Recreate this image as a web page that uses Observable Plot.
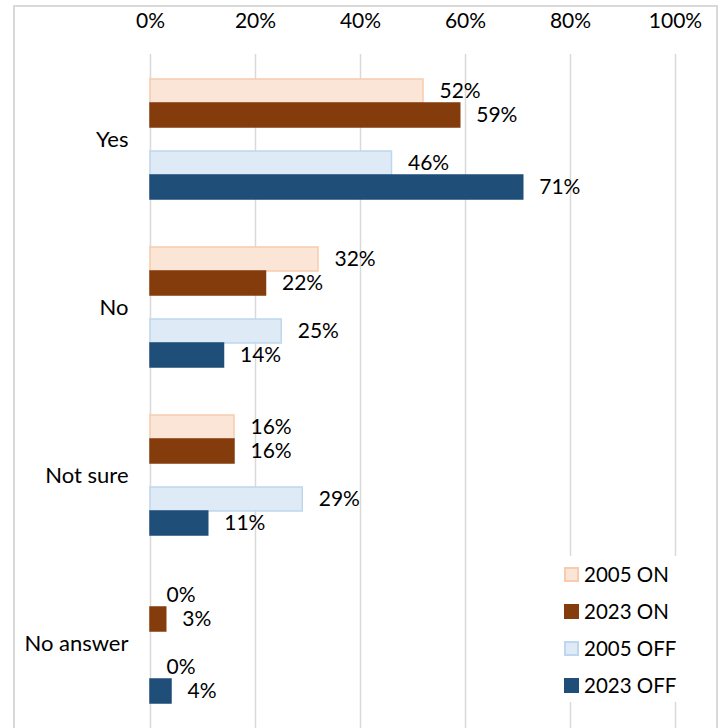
<!DOCTYPE html>
<html><head><meta charset="utf-8">
<script src="https://cdn.jsdelivr.net/npm/d3@7"></script>
<script src="https://cdn.jsdelivr.net/npm/@observablehq/plot@0.6"></script>
<style>
html,body{margin:0;padding:0;background:#fff;}
body{width:723px;height:728px;overflow:hidden;position:relative;font-family:Lato,"Open Sans",sans-serif;}
#chart{position:absolute;left:0;top:0;}
#frame{position:absolute;left:13px;top:5px;width:705px;height:760px;border:2px solid #d9d9d9;box-sizing:border-box;pointer-events:none;}
#legend{position:absolute;left:556px;top:556px;width:132px;height:146px;background:#fff;}
.item{position:absolute;left:8px;display:flex;align-items:center;font-size:20.5px;color:#000;height:30px;}
.sw{width:15px;height:15px;box-sizing:border-box;margin-right:5px;}
</style></head>
<body>
<div id="chart"></div>
<div id="frame"></div>
<div id="legend"></div>
<script>
const categories = ["Yes", "No", "Not sure", "No answer"];
const seriesNames = ["2005 ON", "2023 ON", "2005 OFF", "2023 OFF"];
const on2005  = [52, 32, 16, 0];
const on2023  = [59, 22, 16, 3];
const off2005 = [46, 25, 29, 0];
const off2023 = [71, 14, 11, 4];
const xTicks = [0, 20, 40, 60, 80, 100];

const fills   = ["#fbe5d6", "#843c0c", "#deebf7", "#1f4e79"];
const strokes = ["#f8cbad", "#843c0c", "#bdd7ee", "#1f4e79"];
const seriesValues = [on2005, on2023, off2005, off2023];

const data = categories.flatMap((c, i) =>
  seriesNames.map((s, j) => ({category: c, series: s, value: seriesValues[j][i], key: c + "|" + s})));

const yDomain = categories.flatMap(c => [c + "|pad1", c + "|2005 ON", c + "|2023 ON", c + "|mid", c + "|2005 OFF", c + "|2023 OFF", c + "|pad2"]);
const mids = categories.map(c => c + "|mid");

const FS = 21;
const chart = Plot.plot({
  width: 723, height: 728,
  marginLeft: 150, marginRight: 48, marginTop: 54, marginBottom: 0,
  style: {fontFamily: "Lato, 'Open Sans', sans-serif", fontSize: FS + "px", color: "#000", background: "transparent"},
  x: {domain: [0, 100], axis: null},
  y: {domain: yDomain, axis: null, padding: 0},
  marks: [
    Plot.gridX(xTicks, {stroke: "#d9d9d9", strokeWidth: 1.5, strokeOpacity: 1}),
    Plot.axisX(xTicks, {anchor: "top", label: null, tickSize: 0, tickPadding: 27, tickFormat: d => d + "%", fontSize: FS, fill: "#000"}),
    Plot.axisY(mids, {anchor: "left", label: null, tickSize: 0, tickPadding: 22, tickFormat: k => k.split("|")[0], fontSize: 22, fill: "#000"}),
    ...seriesNames.map((s, j) => Plot.barX(data.filter(d => d.series === s && d.value > 0), {
      x: "value", y: "key", fill: fills[j], stroke: strokes[j], strokeWidth: 1.5
    })),
    Plot.text(data, {x: "value", y: "key", text: d => d.value + "%", dx: 16, textAnchor: "start", fontSize: FS, fill: "#000"})
  ]
});
document.getElementById("chart").appendChild(chart);

const legend = document.getElementById("legend");
seriesNames.forEach((s, j) => {
  const it = document.createElement("div");
  it.className = "item";
  it.style.top = (3 + j * 37) + "px";
  const sw = document.createElement("span");
  sw.className = "sw";
  sw.style.background = fills[j];
  sw.style.border = "2px solid " + strokes[j];
  it.appendChild(sw);
  it.appendChild(document.createTextNode(s));
  legend.appendChild(it);
});
</script>
</body></html>
